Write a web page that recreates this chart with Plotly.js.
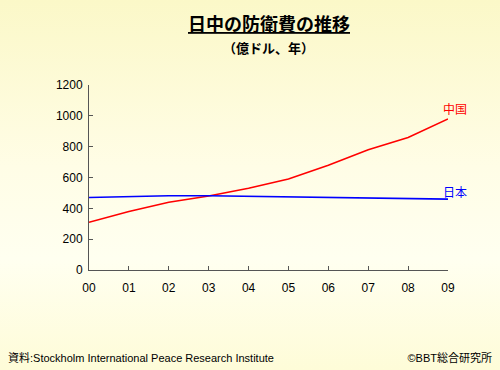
<!DOCTYPE html>
<html><head><meta charset="utf-8">
<script src="https://cdn.plot.ly/plotly-3.0.1.min.js"></script>
<style>
html,body{margin:0;padding:0;}
body{width:500px;height:370px;background:linear-gradient(to bottom,#fbf8c8 0%,#fffde6 45%,#fffff0 70%,#fefcd8 100%);}
#chart{width:500px;height:370px;}
.foot{position:absolute;top:349px;font-size:11px;font-family:'Liberation Sans','Noto Sans CJK JP',sans-serif;color:#000;}
</style></head>
<body><div id="chart"></div>
<script>
const years = ['00','01','02','03','04','05','06','07','08','09'];
const china = [310, 380, 440, 480, 530, 590, 680, 780, 860, 980];
const japan = [470, 478, 482, 482, 478, 475, 472, 468, 460, 460];
const seriesNames = ['中国','日本'];
const tickVals = [0,200,400,600,800,1000,1200];

const xIdx = years.map((_, i) => i);
const jp = '"Noto Sans CJK JP", "Liberation Sans", sans-serif';
const lat = '"Liberation Sans", Arial, sans-serif';

const traces = [
  {x: xIdx, y: china, mode: 'lines', line: {color: '#ff0000', width: 1.6}, name: seriesNames[0]},
  {x: xIdx, y: japan, mode: 'lines', line: {color: '#0000ff', width: 1.6}, name: seriesNames[1]}
];

const layout = {
  width: 500, height: 370,
  paper_bgcolor: 'rgba(0,0,0,0)', plot_bgcolor: 'rgba(0,0,0,0)',
  showlegend: false,
  margin: {l: 89, r: 52, t: 85, b: 100},
  xaxis: {
    range: [0, 9], tickvals: xIdx, ticktext: years,
    showgrid: false, zeroline: false, showline: true, linecolor: '#555', linewidth: 1,
    ticks: 'inside', ticklen: 4, tickcolor: '#555', ticklabelstandoff: 7,
    tickfont: {family: lat, size: 12, color: '#000'}
  },
  yaxis: {
    range: [0, 1200], tickvals: tickVals,
    showgrid: false, zeroline: false, showline: true, linecolor: '#555', linewidth: 1,
    ticks: 'inside', ticklen: 4, tickcolor: '#555', ticklabelstandoff: 3,
    tickfont: {family: lat, size: 12, color: '#000'}
  },
  annotations: [
    {xref: 'x', yref: 'y', x: 9, y: china[9], text: seriesNames[0], showarrow: false,
     xanchor: 'center', yanchor: 'middle', yshift: 10, xshift: 7, font: {family: jp, size: 12, color: '#ff0000'}},
    {xref: 'x', yref: 'y', x: 9, y: japan[9], text: seriesNames[1], showarrow: false,
     xanchor: 'center', yanchor: 'middle', yshift: 8, xshift: 7, font: {family: jp, size: 12, color: '#0000ff'}},
    {xref: 'paper', yref: 'paper', x: 0.5, y: 1, yshift: 62, text: '<b><u>日中の防衛費の推移</u></b>', showarrow: false,
     xanchor: 'center', yanchor: 'middle', font: {family: jp, size: 18, color: '#000'}},
    {xref: 'paper', yref: 'paper', x: 0.5, y: 1, yshift: 38, text: '<b>（億ドル、年）</b>', showarrow: false,
     xanchor: 'center', yanchor: 'middle', font: {family: jp, size: 13, color: '#000'}}
  ]
};

Plotly.newPlot('chart', traces, layout, {staticPlot: true});
</script>
<div class="foot" style="left:8px;">資料:Stockholm International Peace Research Institute</div>
<div class="foot" style="right:8px;">©BBT総合研究所</div>
</body></html>
